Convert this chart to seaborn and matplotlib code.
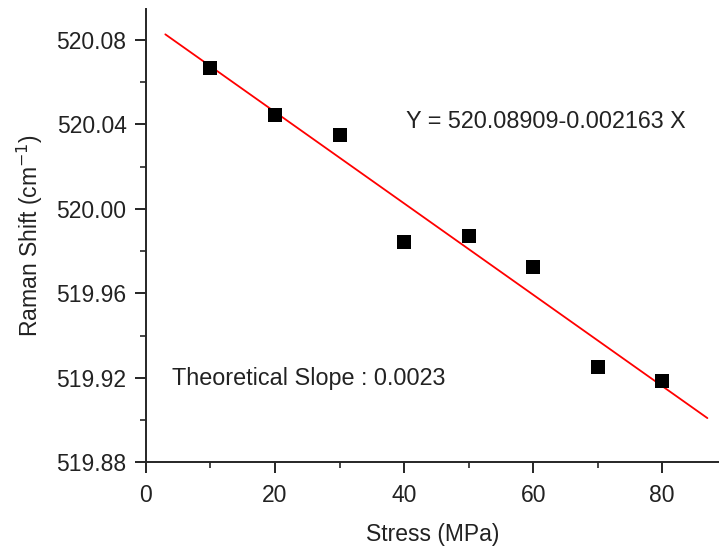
import matplotlib
matplotlib.use('Agg')
import matplotlib.pyplot as plt
from matplotlib.ticker import MultipleLocator, FormatStrFormatter
import seaborn as sns
import pandas as pd

# Dados
stress = [10, 20, 30, 40, 50, 60, 70, 80]
shift = [520.0667, 520.0444, 520.0349, 519.9842, 519.9870, 519.9723, 519.9253, 519.9187]

# Reta ajustada: Y = 520.08909 - 0.002163 X
intercept = 520.08909
slope = -0.002163
fit_x = [3, 87]

df = pd.DataFrame({'stress': stress, 'shift': shift})
fit = pd.DataFrame({'x': fit_x, 'y': [intercept + slope * x for x in fit_x]})

sns.set_style('ticks')
plt.rcParams['font.family'] = ['Liberation Sans', 'DejaVu Sans']
plt.rcParams['text.color'] = '#222222'

fig = plt.figure(figsize=(7.19, 5.49), dpi=100)
ax = fig.add_axes([0.203, 0.158, 0.797, 0.826])

sns.lineplot(data=fit, x='x', y='y', color='#ff0000', linewidth=1.3, ax=ax)
sns.scatterplot(data=df, x='stress', y='shift', marker='s', s=90, color='black',
                edgecolor='black', linewidth=0, zorder=3, ax=ax)

ax.set_xlim(0, 88.8)
ax.set_ylim(519.88, 520.0947)
ax.xaxis.set_major_locator(MultipleLocator(20))
ax.xaxis.set_minor_locator(MultipleLocator(10))
ax.yaxis.set_major_locator(MultipleLocator(0.04))
ax.yaxis.set_minor_locator(MultipleLocator(0.02))
ax.yaxis.set_major_formatter(FormatStrFormatter('%.2f'))

ax.tick_params(which='major', direction='out', length=8, width=1.2, labelsize=16.5,
               colors='black', labelcolor='#222222')
ax.tick_params(axis='x', which='major', pad=8)
ax.tick_params(axis='y', which='major', pad=6)
ax.tick_params(which='minor', direction='out', length=4, width=1.2)
for s in ['left', 'bottom']:
    ax.spines[s].set_linewidth(1.4)
sns.despine(ax=ax)

ax.set_xlabel('Stress (MPa)', fontsize=16.5, labelpad=11, color='#222222')
ax.set_ylabel('Raman Shift (cm$^{-1}$)', fontsize=16.5, labelpad=8, color='#222222')

fig.text(406 / 719, 1 - 122 / 549, 'Y = 520.08909-0.002163 X', fontsize=16.8, va='center')
fig.text(172 / 719, 1 - 378 / 549, 'Theoretical Slope : 0.0023', fontsize=16.8, va='center')

fig.savefig('out.png', dpi=100)
